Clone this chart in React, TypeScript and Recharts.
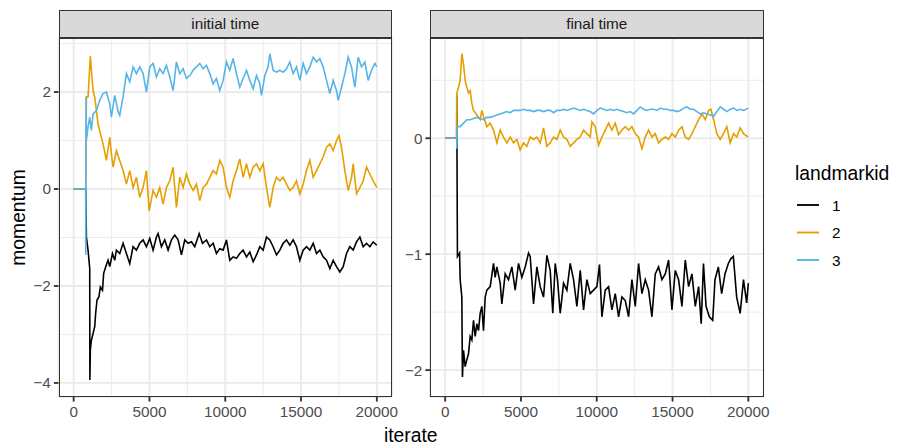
import React from "react";
import { CartesianGrid, Line, LineChart, XAxis, YAxis } from "recharts";

type Pt = [number, number];

// iterate ticks shared by both panels
const iterTicks = [0, 5000, 10000, 15000, 20000];
const iterMinor = [2500, 7500, 12500, 17500];

const initialTicks = [-4, -2, 0, 2];
const initialMinor = [-3, -1, 1, 3];
const finalTicks = [-2, -1, 0];
const finalMinor = [-1.5, -0.5, 0.5];

const landmarks = ["1", "2", "3"];
const colours = ["#000000", "#E69F00", "#56B4E9"];

// initial time, landmark 1..3 : [iterate, momentum]
const initial1: Pt[] = [
  [0, 0], [800, 0], [840, -0.99], [950, -1.26], [1060, -1.64], [1070, -3.94], [1100, -3.32], [1170, -3.12],
  [1280, -2.98], [1390, -2.84], [1450, -2.57], [1540, -2.29], [1670, -2.22], [1760, -2.02], [1900, -2.09],
  [1980, -1.74], [2120, -1.6], [2270, -1.47], [2380, -1.6], [2560, -1.33], [2710, -1.47], [2820, -1.26],
  [3040, -1.33], [3260, -1.12], [3480, -1.33], [3700, -1.54], [3920, -1.19], [4140, -1.26], [4360, -1.12],
  [4580, -1.05], [4800, -1.19], [5020, -1.02], [5240, -1.26], [5460, -0.99], [5570, -0.92], [5790, -1.19],
  [6010, -1.05], [6230, -1.26], [6450, -1.05], [6670, -0.95], [6890, -1.05], [7110, -1.36], [7330, -1.05],
  [7550, -1.12], [7770, -1.09], [7990, -1.19], [8280, -0.92], [8500, -1.12], [8760, -1.05], [8980, -1.19],
  [9200, -1.12], [9420, -1.33], [9640, -1.23], [9860, -1.26], [10080, -1.05], [10300, -1.47], [10520, -1.4],
  [10740, -1.43], [10960, -1.33], [11180, -1.26], [11400, -1.4], [11620, -1.3], [11840, -1.5], [12060, -1.36],
  [12280, -1.19], [12500, -1.26], [12720, -0.99], [12940, -1.05], [13160, -1.19], [13380, -1.36], [13600, -1.26],
  [13820, -1.12], [14040, -1.05], [14260, -1.16], [14480, -1.05], [14700, -1.19], [14920, -1.47], [15140, -1.26],
  [15360, -1.19], [15580, -1.26], [15800, -1.12], [16020, -1.33], [16240, -1.26], [16460, -1.4], [16680, -1.47],
  [16900, -1.64], [17120, -1.47], [17340, -1.6], [17560, -1.71], [17780, -1.6], [18000, -1.33], [18220, -1.19],
  [18440, -1.26], [18660, -1.09], [18880, -0.99], [19100, -1.19], [19320, -1.12], [19540, -1.19], [19760, -1.09],
  [20000, -1.16],
];

const initial2: Pt[] = [
  [0, 0], [800, 0], [840, 1.9], [950, 1.9], [1100, 2.74], [1170, 2.45], [1280, 2.03], [1390, 1.9], [1500, 1.62],
  [1610, 1.34], [1720, 1.2], [1940, 0.93], [2160, 0.59], [2380, 1.07], [2490, 0.72], [2600, 0.45], [2820, 0.79],
  [3040, 0.59], [3260, 0.38], [3480, 0.1], [3700, 0.38], [3920, 0.03], [4140, 0.24], [4360, -0.17], [4580, 0.03],
  [4800, 0.38], [4980, -0.45], [5240, -0.03], [5460, -0.17], [5680, 0.03], [5900, -0.31], [6120, 0.03],
  [6340, 0.17], [6560, 0.45], [6780, -0.38], [7000, 0.24], [7220, 0.03], [7440, 0.31], [7660, 0.1], [7880, -0.03],
  [8100, 0.1], [8320, -0.24], [8540, 0.03], [8760, 0.1], [8980, 0.24], [9200, 0.38], [9420, 0.31], [9640, 0.59],
  [9860, 0.45], [10080, 0.03], [10300, -0.17], [10520, 0.17], [10740, 0.38], [10960, 0.62], [11180, 0.24],
  [11400, 0.52], [11620, 0.24], [11840, 0.45], [12060, 0.52], [12280, 0.38], [12500, 0.52], [12720, 0.03],
  [12940, -0.38], [13160, 0.03], [13380, 0.24], [13600, 0.17], [13820, 0.24], [14040, 0.1], [14260, -0.03],
  [14480, 0.03], [14700, 0.17], [14920, -0.1], [15140, 0.1], [15360, 0.38], [15580, 0.59], [15800, 0.24],
  [16020, 0.38], [16240, 0.52], [16460, 0.66], [16680, 0.86], [16900, 0.93], [17120, 0.79], [17340, 1.0],
  [17510, 1.1], [17670, 0.86], [17890, 0.38], [18110, -0.03], [18330, 0.24], [18440, 0.52], [18660, -0.1],
  [18880, 0.03], [19100, 0.17], [19320, 0.45], [19540, 0.31], [19760, 0.17], [20000, 0.03],
];

const initial3: Pt[] = [
  [0, 0], [790, 0], [800, -1.36], [820, 1.9], [840, 1.0], [950, 1.28], [1060, 1.48], [1170, 1.21], [1280, 1.55],
  [1500, 1.62], [1720, 1.83], [1940, 1.97], [2160, 2.0], [2380, 1.76], [2490, 1.48], [2710, 1.93], [2930, 1.6],
  [3040, 1.52], [3260, 1.9], [3480, 2.38], [3700, 2.21], [3920, 2.52], [4140, 2.38], [4360, 2.52], [4580, 2.38],
  [4800, 2.0], [5020, 2.52], [5240, 2.59], [5460, 2.31], [5680, 2.48], [5900, 2.38], [6120, 2.55], [6340, 2.31],
  [6560, 2.03], [6780, 2.62], [7000, 2.38], [7220, 2.48], [7440, 2.28], [7660, 2.34], [7880, 2.45], [8100, 2.52],
  [8320, 2.59], [8540, 2.48], [8760, 2.55], [8980, 2.38], [9200, 2.17], [9420, 2.28], [9640, 2.03], [9860, 2.24],
  [10080, 2.62], [10300, 2.45], [10520, 2.69], [10740, 2.38], [10960, 2.1], [11180, 2.28], [11400, 2.45],
  [11620, 2.24], [11840, 2.07], [12060, 2.34], [12280, 2.17], [12390, 1.93], [12610, 2.34], [12830, 2.52],
  [12940, 2.79], [13160, 2.45], [13380, 2.41], [13600, 2.45], [13820, 2.41], [14040, 2.48], [14260, 2.62],
  [14480, 2.38], [14700, 2.52], [14920, 2.24], [15140, 2.59], [15360, 2.38], [15580, 2.52], [15800, 2.72],
  [16020, 2.62], [16240, 2.69], [16460, 2.52], [16680, 2.24], [16900, 1.97], [17120, 2.24], [17340, 2.03],
  [17450, 1.83], [17670, 2.1], [17890, 2.38], [18110, 2.72], [18330, 2.52], [18550, 2.1], [18770, 2.72],
  [18990, 2.52], [19210, 2.62], [19430, 2.24], [19650, 2.45], [19870, 2.59], [20000, 2.52],
];

// final time, landmark 1..3
const final1: Pt[] = [
  [0, 0], [760, 0], [765, 0.37], [810, -1.02], [950, -0.99], [990, -1.22], [1100, -1.37], [1140, -2.06],
  [1210, -1.83], [1320, -1.97], [1430, -1.91], [1540, -1.86], [1650, -1.71], [1760, -1.74], [1870, -1.57],
  [1980, -1.71], [2090, -1.6], [2200, -1.66], [2310, -1.51], [2420, -1.45], [2530, -1.66], [2640, -1.37],
  [2750, -1.31], [2970, -1.28], [3190, -1.08], [3300, -1.2], [3410, -1.11], [3630, -1.25], [3740, -1.43],
  [3960, -1.17], [4180, -1.22], [4400, -1.11], [4620, -1.31], [4840, -1.08], [5060, -1.2], [5280, -1.11],
  [5500, -0.99], [5610, -1.02], [5830, -1.43], [6050, -1.11], [6270, -1.28], [6490, -1.37], [6710, -1.01],
  [6930, -1.14], [7100, -1.51], [7260, -1.08], [7410, -1.22], [7590, -1.51], [7810, -1.25], [8030, -1.31],
  [8250, -1.08], [8470, -1.22], [8690, -1.45], [8910, -1.14], [9130, -1.48], [9350, -1.22], [9570, -1.34],
  [9790, -1.31], [10010, -1.28], [10180, -1.09], [10340, -1.54], [10560, -1.31], [10780, -1.28], [11000, -1.48],
  [11220, -1.34], [11440, -1.54], [11660, -1.37], [11880, -1.4], [12100, -1.54], [12320, -1.22], [12540, -1.45],
  [12760, -1.08], [12980, -1.34], [13200, -1.22], [13420, -1.31], [13640, -1.54], [13860, -1.17], [14080, -1.11],
  [14300, -1.22], [14520, -1.17], [14740, -1.05], [14960, -1.48], [15180, -1.14], [15400, -1.22], [15620, -1.45],
  [15840, -1.05], [16060, -1.28], [16280, -1.17], [16500, -1.45], [16720, -1.28], [16890, -1.6], [17040, -1.08],
  [17210, -1.45], [17430, -1.54], [17650, -1.57], [17800, -1.22], [18020, -1.11], [18240, -1.34], [18460, -1.17],
  [18680, -1.08], [18840, -1.04], [19010, -1.02], [19230, -1.37], [19460, -1.51], [19680, -1.22], [19890, -1.42],
  [20000, -1.25],
];

const final2: Pt[] = [
  [0, 0], [760, 0], [770, 0.39], [880, 0.44], [990, 0.5], [1100, 0.73], [1210, 0.64], [1320, 0.5], [1430, 0.44],
  [1540, 0.39], [1650, 0.41], [1760, 0.3], [1870, 0.24], [2090, 0.2], [2310, 0.16], [2420, 0.24], [2530, 0.19],
  [2750, 0.1], [2970, 0.13], [3190, 0.07], [3410, -0.04], [3630, 0.07], [3850, 0.01], [4070, -0.04], [4290, 0.01],
  [4510, -0.04], [4730, -0.01], [4950, -0.1], [5170, -0.04], [5390, -0.07], [5610, 0.01], [5830, -0.01],
  [6050, 0.01], [6270, -0.04], [6490, 0.09], [6710, -0.07], [6930, -0.04], [7150, 0.01], [7370, -0.01],
  [7590, 0.07], [7810, 0.01], [8030, -0.01], [8250, -0.07], [8470, -0.04], [8690, -0.01], [8910, 0.01],
  [9130, 0.07], [9350, 0.04], [9570, 0.01], [9680, 0.14], [9900, 0.1], [10120, -0.06], [10340, 0.01],
  [10560, 0.07], [10780, 0.13], [11000, 0.07], [11220, 0.13], [11440, 0.03], [11660, 0.07], [11880, 0.1],
  [12100, 0.07], [12320, 0.1], [12540, 0.04], [12760, 0.01], [12980, -0.09], [13200, 0.01], [13420, 0.07],
  [13640, 0.01], [13860, 0.04], [14080, -0.04], [14300, -0.01], [14520, 0.01], [14740, -0.01], [14960, 0.04],
  [15180, 0.01], [15400, 0.07], [15620, 0.1], [15840, 0.01], [16060, -0.01], [16280, 0.04], [16500, 0.1],
  [16720, 0.16], [16940, 0.21], [17160, 0.16], [17380, 0.24], [17530, 0.25], [17710, 0.16], [17920, 0.04],
  [18140, -0.01], [18360, 0.04], [18580, 0.1], [18800, -0.04], [19020, 0.04], [19240, 0.01], [19460, 0.09],
  [19680, 0.04], [20000, 0.01],
];

const final3: Pt[] = [
  [0, 0], [760, 0], [770, -0.09], [780, 0.1], [990, 0.1], [1210, 0.13], [1430, 0.16], [1650, 0.16], [1870, 0.17],
  [2090, 0.18], [2310, 0.17], [2530, 0.16], [2750, 0.18], [2970, 0.18], [3190, 0.19], [3410, 0.2], [3630, 0.21],
  [3850, 0.22], [4070, 0.23], [4290, 0.22], [4510, 0.24], [4730, 0.24], [4950, 0.24], [5170, 0.25], [5390, 0.24],
  [5610, 0.24], [5830, 0.23], [6050, 0.24], [6270, 0.24], [6490, 0.23], [6710, 0.24], [6930, 0.24], [7150, 0.22],
  [7370, 0.24], [7590, 0.24], [7810, 0.25], [8030, 0.24], [8250, 0.25], [8470, 0.26], [8690, 0.25], [8910, 0.24],
  [9130, 0.25], [9350, 0.24], [9570, 0.23], [9790, 0.21], [10010, 0.24], [10230, 0.26], [10450, 0.25],
  [10670, 0.24], [10890, 0.25], [11110, 0.24], [11330, 0.25], [11550, 0.24], [11770, 0.23], [11990, 0.22],
  [12210, 0.23], [12430, 0.21], [12650, 0.24], [12870, 0.27], [13090, 0.25], [13310, 0.24], [13530, 0.25],
  [13750, 0.25], [13970, 0.24], [14190, 0.26], [14410, 0.25], [14630, 0.25], [14850, 0.24], [15070, 0.24],
  [15290, 0.23], [15510, 0.24], [15730, 0.26], [15950, 0.27], [16170, 0.25], [16390, 0.25], [16610, 0.23],
  [16830, 0.21], [17050, 0.22], [17270, 0.21], [17490, 0.2], [17710, 0.19], [17930, 0.23], [18150, 0.27],
  [18370, 0.25], [18590, 0.23], [18810, 0.25], [19030, 0.26], [19250, 0.24], [19470, 0.25], [19690, 0.24],
  [20000, 0.26],
];

const FONT = '"Liberation Sans", Arial, Helvetica, sans-serif';
const TICK_FONT = 15.3;
const TITLE_FONT = 19.3;
const LINE_W = 1.85;
const PLOT_TOP = 37.5;
const PLOT_BOTTOM = 397;
const PLOT_W = 333.5;
const H = 447;
const X_AXIS_H = 30;

const minus = (v: number) => (v < 0 ? `\u2212${Math.abs(v)}` : `${v}`);
const toRows = (pts: Pt[]) => pts.map(([iter, v]) => ({ iter, v }));

type PanelProps = {
  left: number;
  width: number;
  plotLeft: number;
  yWidth: number;
  title: string;
  series: Pt[][];
  domain: [number, number];
  ticks: number[];
  minor: number[];
};

function Panel({ left, width, plotLeft, yWidth, title, series, domain, ticks, minor }: PanelProps) {
  const localPlotLeft = plotLeft - left;
  const margin = {
    top: PLOT_TOP,
    right: width - localPlotLeft - PLOT_W,
    bottom: H - PLOT_BOTTOM - X_AXIS_H,
    left: localPlotLeft - yWidth,
  };
  const tickLine = { stroke: "#333333", strokeWidth: LINE_W };
  const tick = { fill: "#4D4D4D", fontSize: TICK_FONT, fontFamily: FONT };
  return (
    <>
      <div style={{ position: "absolute", left, top: 0 }}>
        <LineChart width={width} height={H} margin={margin}>
          <CartesianGrid
            stroke="#EBEBEB"
            strokeWidth={0.93}
            verticalValues={iterMinor}
            horizontalValues={minor}
          />
          <CartesianGrid stroke="#EBEBEB" strokeWidth={LINE_W} />
          <XAxis
            dataKey="iter"
            type="number"
            domain={[-1000, 21000]}
            ticks={iterTicks}
            interval={0}
            allowDataOverflow
            axisLine={false}
            tickLine={tickLine}
            tickSize={4.6}
            tickMargin={5}
            tick={tick}
            height={X_AXIS_H}
          />
          <YAxis
            type="number"
            domain={domain}
            ticks={ticks}
            interval={0}
            allowDataOverflow
            axisLine={false}
            tickLine={tickLine}
            tickSize={4.6}
            tickMargin={3}
            tick={tick}
            tickFormatter={minus}
            width={yWidth}
          />
          {series.map((pts, i) => (
            <Line
              key={landmarks[i]}
              data={toRows(pts)}
              dataKey="v"
              type="linear"
              stroke={colours[i]}
              strokeWidth={1.6}
              dot={false}
              activeDot={false}
              isAnimationActive={false}
            />
          ))}
        </LineChart>
      </div>
      <div
        style={{
          position: "absolute",
          left: plotLeft,
          top: PLOT_TOP,
          width: PLOT_W,
          height: PLOT_BOTTOM - PLOT_TOP,
          border: `${LINE_W}px solid #333333`,
          boxSizing: "border-box",
          pointerEvents: "none",
        }}
      />
      <div
        style={{
          position: "absolute",
          left: plotLeft,
          top: 10,
          width: PLOT_W,
          height: PLOT_TOP - 10 + LINE_W / 2,
          background: "#D9D9D9",
          border: `${LINE_W}px solid #333333`,
          boxSizing: "border-box",
          display: "flex",
          alignItems: "center",
          justifyContent: "center",
          fontFamily: FONT,
          fontSize: TICK_FONT,
          color: "#1A1A1A",
        }}
      >
        {title}
      </div>
    </>
  );
}

export default function App() {
  return (
    <div style={{ position: "absolute", left: 0, top: 0, width: 898, height: H, background: "#FFFFFF" }}>
      <Panel
        left={0}
        width={400}
        plotLeft={58.5}
        yWidth={40}
        title="initial time"
        series={[initial1, initial2, initial3]}
        domain={[-4.29, 3.125]}
        ticks={initialTicks}
        minor={initialMinor}
      />
      <Panel
        left={396}
        width={376}
        plotLeft={430}
        yWidth={30}
        title="final time"
        series={[final1, final2, final3]}
        domain={[-2.232, 0.869]}
        ticks={finalTicks}
        minor={finalMinor}
      />
      <svg width={898} height={H} style={{ position: "absolute", left: 0, top: 0, pointerEvents: "none" }}>
        <text
          x={410.7}
          y={442}
          textAnchor="middle"
          fontFamily={FONT}
          fontSize={TITLE_FONT}
          fill="#000000"
        >
          iterate
        </text>
        <text
          transform="translate(25,217.5) rotate(-90)"
          textAnchor="middle"
          fontFamily={FONT}
          fontSize={TITLE_FONT}
          fill="#000000"
        >
          momentum
        </text>
        <text x={795} y={180} fontFamily={FONT} fontSize={TITLE_FONT} fill="#000000">
          landmarkid
        </text>
        {landmarks.map((id, i) => (
          <g key={id}>
            <line
              x1={797}
              x2={819}
              y1={205 + i * 27.5}
              y2={205 + i * 27.5}
              stroke={colours[i]}
              strokeWidth={LINE_W}
            />
            <text
              x={832}
              y={205 + i * 27.5}
              dominantBaseline="central"
              fontFamily={FONT}
              fontSize={TICK_FONT}
              fill="#000000"
            >
              {id}
            </text>
          </g>
        ))}
      </svg>
    </div>
  );
}
